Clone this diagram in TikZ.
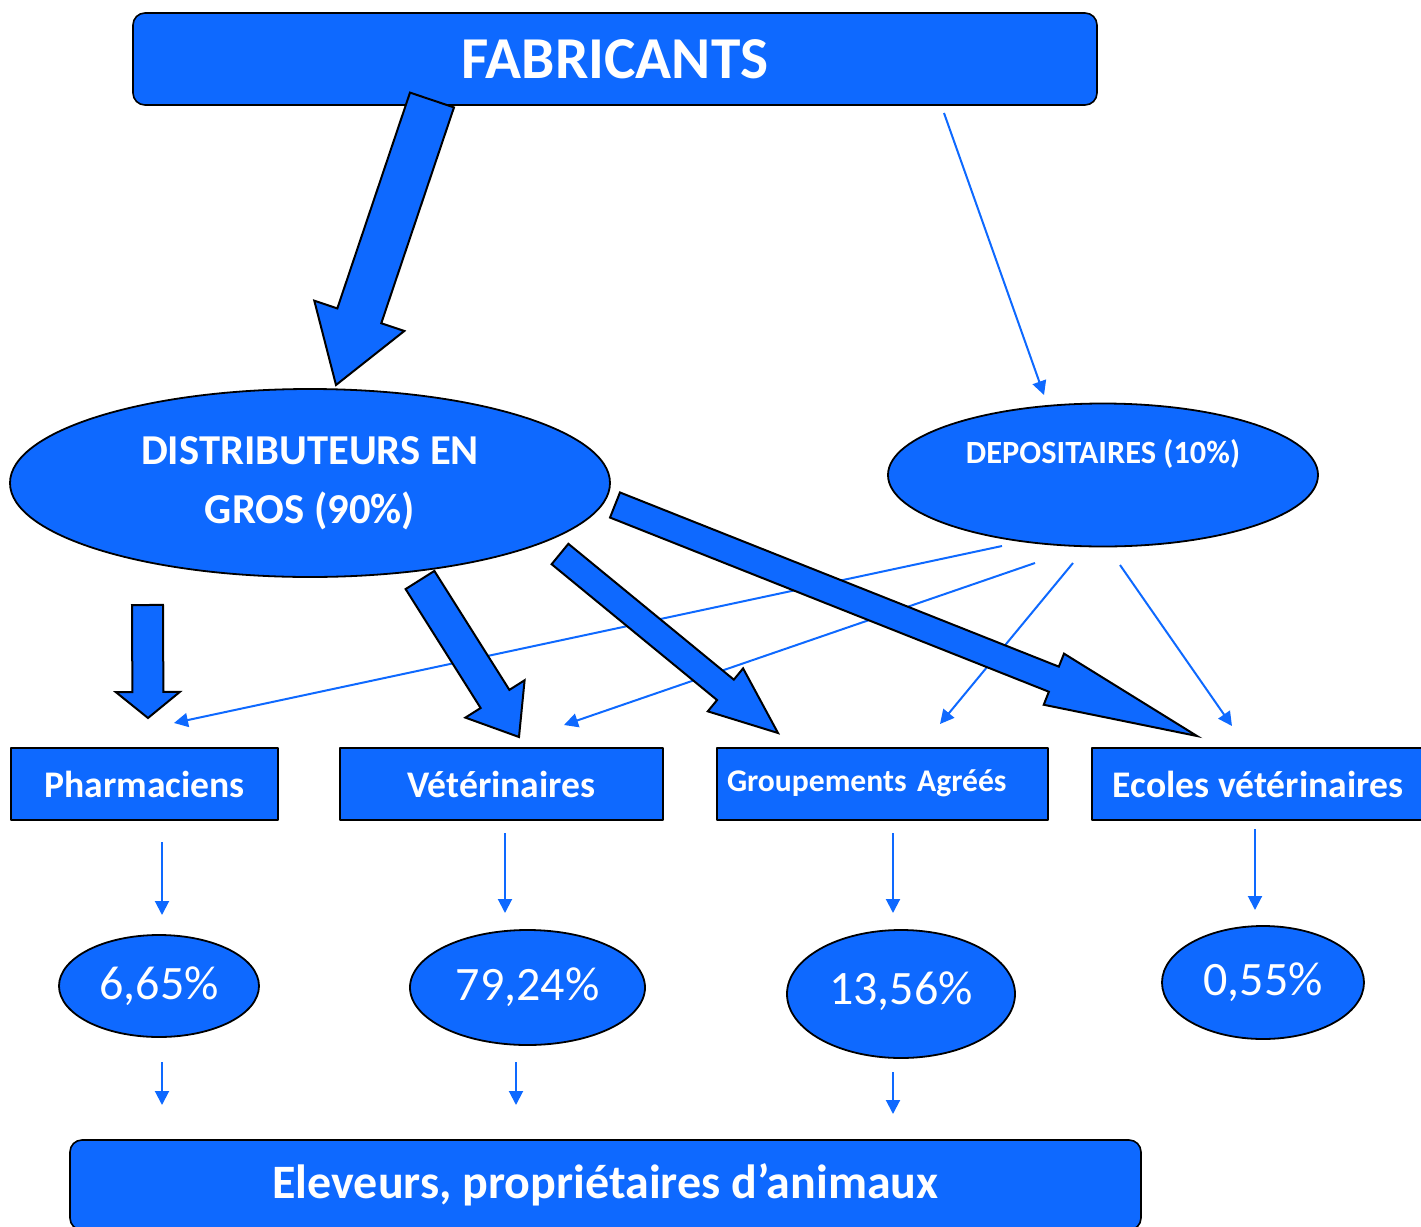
\documentclass[tikz,border=0pt]{standalone}
\usepackage{fontspec}
\setmainfont{Carlito}
\usetikzlibrary{shapes.geometric,calc,arrows.meta}
\definecolor{bleu}{RGB}{14,105,255}
\tikzset{
	boite/.style={draw=black, line width=0.8pt, fill=bleu, text=white, inner sep=0pt,
		font=\bfseries\fontsize{18.8}{22}\selectfont},
	ovale/.style={ellipse, draw=black, line width=0.9pt, fill=bleu, text=white, inner sep=0pt},
	pourcent/.style={ovale, font=\fontsize{24}{28}\selectfont},
	mince/.style={->, draw=bleu, line width=1pt},
	grosse/.style={draw=black, line width=1pt, fill=bleu, line join=miter}
}
%% fleche epaisse : depart, pointe, demi-corps, demi-tete, longueur tete
\newcommand{\grossefleche}[5]{%
	\path ($(#2)!#5!(#1)$) coordinate (h);
	\draw[grosse] ($(#1)!#3!90:(#2)$) -- ($(h)!#3!90:(#2)$) -- ($(h)!#4!90:(#2)$) -- (#2)
	-- ($(h)!#4!-90:(#2)$) -- ($(h)!#3!-90:(#2)$) -- ($(#1)!#3!-90:(#2)$) -- cycle;}
\begin{document}
\begin{tikzpicture}[x=0.5pt, y=-0.5pt, line join=round, >={Triangle[length=7pt,width=7pt]}]
	\useasboundingbox (0,0) rectangle (1421,1227);
	%% Noeuds
	\node[boite, rounded corners=6pt, minimum width=482pt, minimum height=46pt,
		font=\bfseries\fontsize{29.7}{34}\selectfont] (fab) at (615,59) {\raisebox{-3pt}{FABRICANTS}};
	\node[ovale, minimum width=300pt, minimum height=94pt, align=center,
		font=\bfseries\fontsize{21.3}{29.5}\selectfont] (dist) at (310,483) {DISTRIBUTEURS EN\\GROS (90\%)};
	\node[ovale, minimum width=215pt, minimum height=71.5pt,
		font=\bfseries\fontsize{16.2}{19}\selectfont] (depo) at (1103,475) {\raisebox{24pt}{DEPOSITAIRES (10\%)}};
	\node[boite, minimum width=133.5pt, minimum height=36pt] (pharm) at (144.5,784) {Pharmaciens};
	\node[boite, minimum width=161.5pt, minimum height=36pt] (vet) at (501.5,784) {Vétérinaires};
	\node[boite, minimum width=165.5pt, minimum height=36pt, text width=155.5pt, align=left,
		font=\bfseries\fontsize{15.8}{18}\selectfont] (grp) at (882.5,784) {\raisebox{3pt}{Groupements Agréés}};
	\node[boite, minimum width=166pt, minimum height=36pt] (ecole) at (1258,784) {Ecoles vétérinaires};
	\node[pourcent, minimum width=100pt, minimum height=51pt] (p1) at (159,986) {6,65\%};
	\node[pourcent, minimum width=117.5pt, minimum height=57.5pt] (p2) at (527.5,987.5) {79,24\%};
	\node[pourcent, minimum width=114pt, minimum height=64pt] (p3) at (901,994) {\raisebox{6pt}{13,56\%}};
	\node[pourcent, minimum width=101pt, minimum height=56.5pt] (p4) at (1263,982.5) {0,55\%};
	\node[boite, rounded corners=6pt, minimum width=535.5pt, minimum height=45pt,
		font=\bfseries\fontsize{24}{28}\selectfont] (elev) at (605.5,1185) {Eleveurs, propriétaires d’animaux};
	
	%% Khai bao diem
	\path
	(944,113) coordinate (f1)   (1044,395) coordinate (d0)
	(1002,546) coordinate (d1)  (174,723) coordinate (ph)
	(1035,563) coordinate (d2)  (564,725) coordinate (ve)
	(1073,563) coordinate (d3)  (940,724) coordinate (gr)
	(1120,565) coordinate (d4)  (1232,726) coordinate (ec)
	(162,842) coordinate (ph1)  (162,915) coordinate (ph2)
	(505,833) coordinate (ve1)  (505,913) coordinate (ve2)
	(893,833) coordinate (gr1)  (893,913) coordinate (gr2)
	(1255,829) coordinate (ec1) (1255,910) coordinate (ec2)
	(162,1062) coordinate (q1)  (162,1105) coordinate (e1)
	(516,1062) coordinate (q2)  (516,1105) coordinate (e2)
	(893,1072) coordinate (q3)  (893,1114) coordinate (e3)
	;
	%% fleches minces
	\foreach \a/\b in {f1/d0,d1/ph,d2/ve,d3/gr,d4/ec,ph1/ph2,ve1/ve2,gr1/gr2,ec1/ec2,q1/e1,q2/e2,q3/e3}
	\draw[mince] (\a)--(\b);
	
	%% fleches epaisses
	\path
	(432,100) coordinate (F)    (336,385) coordinate (D)
	(147.5,605) coordinate (D1) (148,718) coordinate (P)
	(420,580) coordinate (D2)   (519,737) coordinate (V)
	(560,554) coordinate (D3)   (778,733) coordinate (G)
	(615,505) coordinate (D4)   (1197,736) coordinate (E)
	;
	\grossefleche{F}{D}{11.6pt}{23.75pt}{36.5pt}
	\grossefleche{D1}{P}{7.75pt}{16pt}{13pt}
	\grossefleche{D2}{V}{8.5pt}{17.5pt}{22.5pt}
	\grossefleche{D3}{G}{6.6pt}{13.9pt}{34pt}
	\grossefleche{D4}{E}{6.75pt}{13.75pt}{77pt}
\end{tikzpicture}
\end{document}
